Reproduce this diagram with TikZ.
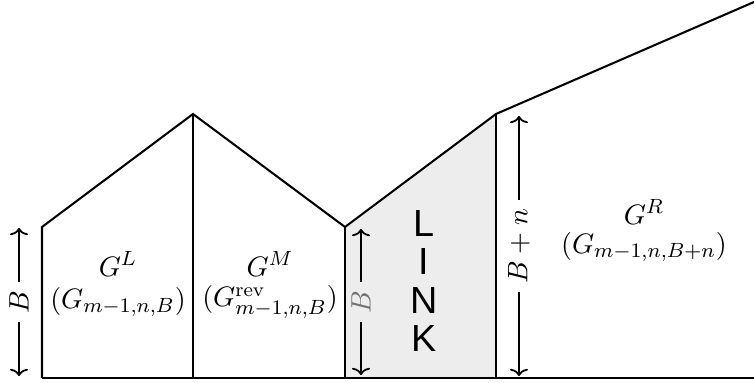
\documentclass[tikz,border=0pt]{standalone}
\usepackage{fontspec}
\usetikzlibrary{arrows.meta}
\newfontfamily\linkfont{Liberation Sans}
\begin{document}
\begin{tikzpicture}[x=0.389pt,y=-0.389pt,
  wall/.style={line width=0.8pt,line join=miter},
  base/.style={line width=1.1pt},
  dim/.style={{To[length=2.8pt,width=7pt]}-{To[length=2.8pt,width=7pt]},line width=0.7pt},
  dimlab/.style={rotate=90,inner xsep=3.5pt,inner ysep=1pt,fill=white,font=\fontsize{11}{13}\selectfont},
  lab/.style={inner sep=0pt,font=\fontsize{11}{13}\selectfont}]
\useasboundingbox (0,0) rectangle (754,383);
% corners
\coordinate (A0) at (42,378);
\coordinate (A1) at (42,227);
\coordinate (P1) at (193,114);
\coordinate (P1b) at (193,378);
\coordinate (V) at (345,227);
\coordinate (Vb) at (345,378);
\coordinate (P2) at (496,114);
\coordinate (P2b) at (496,378);
\coordinate (E) at (754,2);
\coordinate (Eb) at (754,378);
% link fill
\fill[black!7] (Vb) -- (V) -- (P2) -- (P2b) -- cycle;
% dimension arrows
\coordinate (d1t) at (19,228);
\coordinate (d1b) at (19,376);
\draw[dim] (d1t) -- node[dimlab] {$B$} (d1b);
\coordinate (d2t) at (361,229);
\coordinate (d2b) at (361,375);
\draw[dim] (d2t) -- node[dimlab,fill=black!7,text=black!55] {$B$} (d2b);
\coordinate (d3t) at (519,116);
\coordinate (d3b) at (519,376);
\draw[dim] (d3t) -- node[dimlab] {$B+n$} (d3b);
% outline
\draw[wall] (A0) -- (A1) -- (P1) -- (V) -- (P2) -- (E);
\draw[wall] (P1) -- (P1b);
\draw[wall] (V) -- (Vb);
\draw[wall] (P2) -- (P2b);
\draw[base] (A0) -- (Eb);
% labels
\node[lab] (gl) at (118,264) {$G^L$};
\node[lab] (glsub) at (118,302) {$(G_{m-1,n,B})$};
\node[lab] (gm) at (270,264) {$G^M$};
\node[lab] (gmsub) at (270,302) {$(G^{\mathrm{rev}}_{m-1,n,B})$};
\node[lab] (gr) at (644,212) {$G^R$};
\node[lab] (grsub) at (644,247) {$(G_{m-1,n,B+n})$};
\node[align=center,inner sep=0pt,font=\linkfont\fontsize{14.7}{14.8}\selectfont] (link) at (424,281) {L\\I\\N\\K};
\end{tikzpicture}
\end{document}
